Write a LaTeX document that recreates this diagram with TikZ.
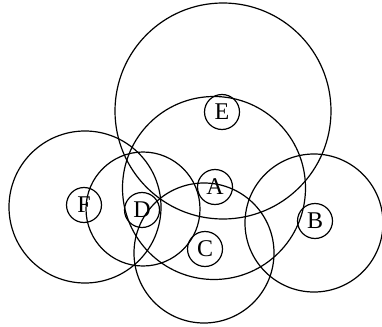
\documentclass[tikz,border=0pt]{standalone}
\usepackage{fontspec}
\setmainfont{Liberation Serif}
\begin{document}
\begin{tikzpicture}[x=1pt,y=-1pt,
  ring/.style={draw=black,line width=1.2pt,circle,inner sep=0pt},
  lbl/.style={draw=black,line width=1.2pt,circle,inner sep=0pt,minimum size=35pt,font=\fontsize{24}{24}\selectfont}]
\useasboundingbox (0,0) rectangle (382,326);
% large circles
\node[ring,minimum size=216pt] (rE) at (223,111) {};
\node[ring,minimum size=183pt] (rA) at (214,188) {};
\node[ring,minimum size=152pt] (rF) at (85,207) {};
\node[ring,minimum size=114pt] (rD) at (143,209) {};
\node[ring,minimum size=140pt] (rC) at (204,253) {};
\node[ring,minimum size=138pt] (rB) at (314,223) {};
% labelled small circles
\node[lbl] (E) at (222,112) {E};
\node[lbl] (A) at (215,187) {A};
\node[lbl] (F) at (84,205) {F};
\node[lbl] (D) at (142,210) {D};
\node[lbl] (C) at (205,249) {C};
\node[lbl] (B) at (315,221) {B};
\end{tikzpicture}
\end{document}
